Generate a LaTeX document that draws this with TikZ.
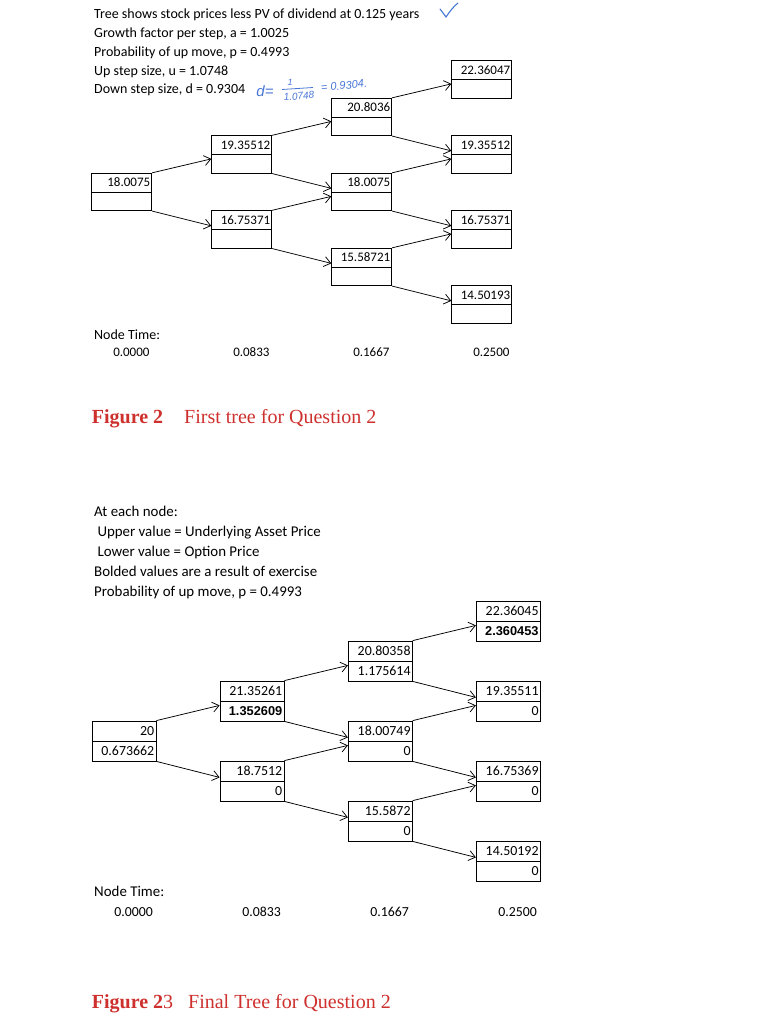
\documentclass[tikz,border=0pt]{standalone}
\usepackage{fontspec}
\setmainfont{Carlito}
\newfontfamily\capfont{Liberation Serif}
\newfontfamily\exfont{Liberation Sans}
\usetikzlibrary{calc,arrows.meta}
\definecolor{capred}{RGB}{205,48,45}
\definecolor{pen}{RGB}{72,118,215}
\tikzstyle{cell}=[draw, line width=0.8pt, minimum width=60pt, minimum height=18.75pt, inner sep=0, text width=57pt, align=right, font=\fontsize{13}{13}\selectfont]
\tikzstyle{bigcell}=[cell, minimum width=64pt, minimum height=20pt, text width=60.5pt, font=\fontsize{13.9}{14}\selectfont]
\tikzstyle{edge}=[-{Straight Barb[length=6.5pt,width=10pt]}, line width=0.75pt]
\tikzstyle{txt}=[anchor=base west, inner sep=0, font=\fontsize{14}{14}\selectfont]
\tikzstyle{bigtxt}=[txt, font=\fontsize{14.9}{15}\selectfont]
\tikzstyle{tick}=[anchor=base east, inner sep=0, font=\fontsize{13}{13}\selectfont]
\tikzstyle{bigtick}=[tick, font=\fontsize{13.8}{14}\selectfont]
\tikzstyle{figcap}=[anchor=base west, inner sep=0, text=capred, font=\capfont\fontsize{20}{20}\selectfont]
\tikzstyle{hand}=[inner sep=0, text=pen, font=\exfont\itshape\fontsize{11}{11}\selectfont]
\newcommand{\exval}[1]{{\exfont\bfseries\fontsize{12.8}{13}\selectfont #1}}

\begin{document}
\begin{tikzpicture}[x=1pt,y=-1pt]
\useasboundingbox (0,0) rectangle (757,1024);
% first tree: header
\node[txt] (h1) at (94,19) {Tree shows stock prices less PV of dividend at 0.125 years};
\node[txt] (h2) at (94,37.7) {Growth factor per step, a = 1.0025};
\node[txt] (h3) at (94,56.5) {Probability of up move, p = 0.4993};
\node[txt] (h4) at (94,75.3) {Up step size, u = 1.0748};
\node[txt] (h5) at (94,94) {Down step size, d = 0.9304};
% hand notes
\node[hand, font=\exfont\itshape\fontsize{15}{15}\selectfont] (hd) at (265,91) {d=};
\node[hand, font=\exfont\itshape\fontsize{9}{9}\selectfont] (hnum) at (290,82.5) {1};
\node[hand, rotate=5, font=\exfont\itshape\fontsize{10}{10}\selectfont] (hden) at (299,96) {1.0748};
\draw[pen, line width=0.8pt] (282,89.5) -- (313,87.5);
\node[hand, rotate=6] (hres) at (344,85.5) {= 0.9304.};
\draw[pen, line width=1.1pt, line cap=round] (440,9) .. controls (443,13) .. (446,17) .. controls (450,11) and (454,6) .. (458,3);
% first tree: boxes
\node at (121.7,182.6)[cell](s0){18.0075};
\node at (121.7,201.3)[cell](s0v){};
\node at (241.7,145.1)[cell](s1){19.35512};
\node at (241.7,163.8)[cell](s1v){};
\node at (241.7,220.1)[cell](s2){16.75371};
\node at (241.7,238.8)[cell](s2v){};
\node at (361.7,107.6)[cell](s3){20.8036};
\node at (361.7,126.3)[cell](s3v){};
\node at (361.7,182.6)[cell](s4){18.0075};
\node at (361.7,201.3)[cell](s4v){};
\node at (361.7,257.6)[cell](s5){15.58721};
\node at (361.7,276.3)[cell](s5v){};
\node at (481.7,70.1)[cell](s6){22.36047};
\node at (481.7,88.8)[cell](s6v){};
\node at (481.7,145.1)[cell](s7){19.35512};
\node at (481.7,163.8)[cell](s7v){};
\node at (481.7,220.1)[cell](s8){16.75371};
\node at (481.7,238.8)[cell](s8v){};
\node at (481.7,295.1)[cell](s9){14.50193};
\node at (481.7,313.8)[cell](s9v){};
\draw[edge] (s0.north east)--($(s1.south west)+(0,4)$);
\draw[edge] (s0v.south east)--($(s2.south west)+(0,-4)$);
\draw[edge] (s1.north east)--($(s3.south west)+(0,4)$);
\draw[edge] (s1v.south east)--($(s4.south west)+(0,-4)$);
\draw[edge] (s2.north east)--($(s4.south west)+(0,4)$);
\draw[edge] (s2v.south east)--($(s5.south west)+(0,-4)$);
\draw[edge] (s3.north east)--($(s6.south west)+(0,4)$);
\draw[edge] (s3v.south east)--($(s7.south west)+(0,-4)$);
\draw[edge] (s4.north east)--($(s7.south west)+(0,4)$);
\draw[edge] (s4v.south east)--($(s8.south west)+(0,-4)$);
\draw[edge] (s5.north east)--($(s8.south west)+(0,4)$);
\draw[edge] (s5v.south east)--($(s9.south west)+(0,-4)$);
% first tree: times
\node[txt] (nt1) at (94,339) {Node Time:};
\node[tick] (ta0) at (149.7,356.7) {0.0000};
\node[tick] (ta1) at (269.7,356.7) {0.0833};
\node[tick] (ta2) at (389.7,356.7) {0.1667};
\node[tick] (ta3) at (509.7,356.7) {0.2500};
\node[figcap] (cap1) at (91.7,423.3) {\textbf{Figure 2}\hspace{21pt}First tree for Question 2};
% second tree: header
\node[bigtxt] (k1) at (94,516.5) {At each node:};
\node[bigtxt] (k2) at (97.3,536.5) {Upper value = Underlying Asset Price};
\node[bigtxt] (k3) at (97.3,556.5) {Lower value = Option Price};
\node[bigtxt] (k4) at (94,576.5) {Bolded values are a result of exercise};
\node[bigtxt] (k5) at (94,596.5) {Probability of up move, p = 0.4993};
% second tree: boxes
\node at (124,731)[bigcell](f0){20};
\node at (124,751)[bigcell](f0v){0.673662};
\node at (252,691)[bigcell](f1){21.35261};
\node at (252,711)[bigcell](f1v){\exval{1.352609}};
\node at (252,771)[bigcell](f2){18.7512};
\node at (252,791)[bigcell](f2v){0};
\node at (380.3,651)[bigcell](f3){20.80358};
\node at (380.3,671)[bigcell](f3v){1.175614};
\node at (380.3,731)[bigcell](f4){18.00749};
\node at (380.3,751)[bigcell](f4v){0};
\node at (380.3,811)[bigcell](f5){15.5872};
\node at (380.3,831)[bigcell](f5v){0};
\node at (508.3,611)[bigcell](f6){22.36045};
\node at (508.3,631)[bigcell](f6v){\exval{2.360453}};
\node at (508.3,691)[bigcell](f7){19.35511};
\node at (508.3,711)[bigcell](f7v){0};
\node at (508.3,771)[bigcell](f8){16.75369};
\node at (508.3,791)[bigcell](f8v){0};
\node at (508.3,851)[bigcell](f9){14.50192};
\node at (508.3,871)[bigcell](f9v){0};
\draw[edge] (f0.north east)--($(f1.south west)+(0,4)$);
\draw[edge] (f0v.south east)--($(f2.south west)+(0,-4)$);
\draw[edge] (f1.north east)--($(f3.south west)+(0,4)$);
\draw[edge] (f1v.south east)--($(f4.south west)+(0,-4)$);
\draw[edge] (f2.north east)--($(f4.south west)+(0,4)$);
\draw[edge] (f2v.south east)--($(f5.south west)+(0,-4)$);
\draw[edge] (f3.north east)--($(f6.south west)+(0,4)$);
\draw[edge] (f3v.south east)--($(f7.south west)+(0,-4)$);
\draw[edge] (f4.north east)--($(f7.south west)+(0,4)$);
\draw[edge] (f4v.south east)--($(f8.south west)+(0,-4)$);
\draw[edge] (f5.north east)--($(f8.south west)+(0,4)$);
\draw[edge] (f5v.south east)--($(f9.south west)+(0,-4)$);
% second tree: times
\node[bigtxt] (nt2) at (94,896.7) {Node Time:};
\node[bigtick] (tb0) at (153,916.7) {0.0000};
\node[bigtick] (tb1) at (281,916.7) {0.0833};
\node[bigtick] (tb2) at (409,916.7) {0.1667};
\node[bigtick] (tb3) at (537,916.7) {0.2500};
\node[figcap] (cap2) at (91.7,1008.3) {\textbf{Figure 2}3\hspace{15pt}Final Tree for Question 2};
\end{tikzpicture}
\end{document}
